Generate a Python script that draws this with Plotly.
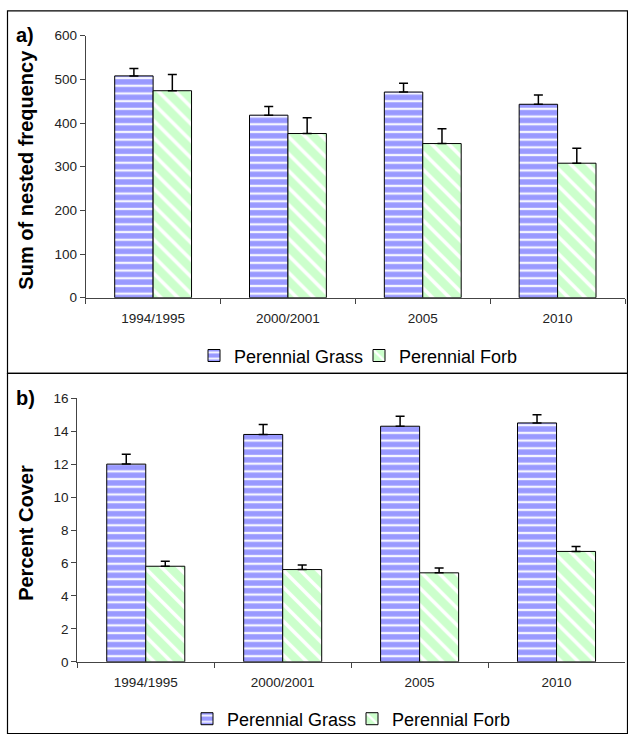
import plotly.graph_objects as go

categories = ["1994/1995", "2000/2001", "2005", "2010"]

# Panel a: Sum of nested frequency
freq_grass = [508, 418, 471, 443]
freq_grass_err = [17, 20, 20, 21]
freq_forb = [474, 376, 353, 308]
freq_forb_err = [37, 36, 34, 34]

# Panel b: Percent cover
cover_grass = [12.0, 13.8, 14.3, 14.5]
cover_grass_err = [0.6, 0.6, 0.6, 0.5]
cover_forb = [5.8, 5.6, 5.4, 6.7]
cover_forb_err = [0.3, 0.28, 0.3, 0.3]

W, H = 628, 742
FONT = "Arial, Liberation Sans, sans-serif"

GRASS_COLOR = "#9999FF"
FORB_COLOR = "#CCFFCC"

grass_marker = dict(
    color=GRASS_COLOR,
    line=dict(color="black", width=1),
    pattern=dict(shape="-", bgcolor=GRASS_COLOR, fgcolor="white",
                 fgopacity=0.9, size=7.7, solidity=0.3),
)
forb_marker = dict(
    color=FORB_COLOR,
    line=dict(color="black", width=1),
    pattern=dict(shape="\\", bgcolor=FORB_COLOR, fgcolor="white",
                 fgopacity=1, size=12, solidity=0.3),
)


def err(arr):
    return dict(type="data", array=arr, arrayminus=[0] * len(arr),
                symmetric=False, color="black", thickness=1.5, width=4.5)


fig = go.Figure()
fig.add_trace(go.Bar(x=categories, y=freq_grass, name="Perennial Grass",
                     marker=grass_marker, error_y=err(freq_grass_err),
                     xaxis="x", yaxis="y", legend="legend"))
fig.add_trace(go.Bar(x=categories, y=freq_forb, name="Perennial Forb",
                     marker=forb_marker, error_y=err(freq_forb_err),
                     xaxis="x", yaxis="y", legend="legend"))
fig.add_trace(go.Bar(x=categories, y=cover_grass, name="Perennial Grass",
                     marker=grass_marker, error_y=err(cover_grass_err),
                     xaxis="x2", yaxis="y2", legend="legend2"))
fig.add_trace(go.Bar(x=categories, y=cover_forb, name="Perennial Forb",
                     marker=forb_marker, error_y=err(cover_forb_err),
                     xaxis="x2", yaxis="y2", legend="legend2"))


def px_x(p):
    return p / W


def px_y(p):
    return 1 - p / H


axis_common = dict(showline=True, linecolor="#444", linewidth=1,
                   ticks="outside", ticklen=5, tickcolor="#444",
                   showgrid=False, zeroline=False,
                   tickfont=dict(family=FONT, size=13.5, color="#222"))
xaxis_extra = dict(type="category", range=[-0.5, 3.5], tickson="boundaries",
                   ticklabelstandoff=8)

legend_common = dict(orientation="h", xanchor="left", yanchor="middle",
                     font=dict(family=FONT, size=18, color="black"),
                     bgcolor="rgba(0,0,0,0)", itemwidth=30,
                     entrywidth=120, entrywidthmode="pixels")

fig.update_layout(
    width=W, height=H,
    margin=dict(l=0, r=0, t=0, b=0),
    paper_bgcolor="white", plot_bgcolor="white",
    barmode="group", bargap=0.43, bargroupgap=0,
    font=dict(family=FONT, color="black"),
    xaxis=dict(domain=[px_x(85.7), px_x(625)], anchor="y",
               **xaxis_extra, **axis_common),
    yaxis=dict(domain=[px_y(296.7), px_y(29.3)], anchor="x",
               range=[0, 600], dtick=100, **axis_common),
    xaxis2=dict(domain=[px_x(77.3), px_x(625)], anchor="y2",
                **xaxis_extra, **axis_common),
    yaxis2=dict(domain=[px_y(668.3), px_y(399.3)], anchor="x2",
                range=[0, 16], dtick=2, **axis_common),
    legend=dict(x=px_x(194), y=px_y(356), **legend_common),
    legend2=dict(x=px_x(187), y=px_y(726.7), **legend_common),
    showlegend=True,
)

# Panel frames
fig.add_shape(type="rect", xref="paper", yref="paper",
              x0=px_x(7.5), x1=px_x(627.5), y0=px_y(374), y1=px_y(4),
              line=dict(color="black", width=1.2))
fig.add_shape(type="rect", xref="paper", yref="paper",
              x0=px_x(7.5), x1=px_x(627.5), y0=px_y(741.5), y1=px_y(374),
              line=dict(color="black", width=1.2))

# Panel labels and y titles
ann_font = dict(family=FONT, size=20, color="black")
fig.add_annotation(text="<b>a)</b>", xref="paper", yref="paper",
                   x=px_x(25), y=px_y(29), showarrow=False, font=ann_font,
                   xanchor="center", yanchor="middle")
fig.add_annotation(text="<b>b)</b>", xref="paper", yref="paper",
                   x=px_x(25), y=px_y(399), showarrow=False, font=ann_font,
                   xanchor="center", yanchor="middle")
fig.add_annotation(text="<b>Sum of nested frequency</b>", xref="paper",
                   yref="paper", x=px_x(26), y=px_y(166), textangle=-90,
                   showarrow=False, font=ann_font,
                   xanchor="center", yanchor="middle")
fig.add_annotation(text="<b>Percent Cover</b>", xref="paper",
                   yref="paper", x=px_x(26), y=px_y(536.7), textangle=-90,
                   showarrow=False, font=ann_font,
                   xanchor="center", yanchor="middle")

fig.write_html("out.html")
